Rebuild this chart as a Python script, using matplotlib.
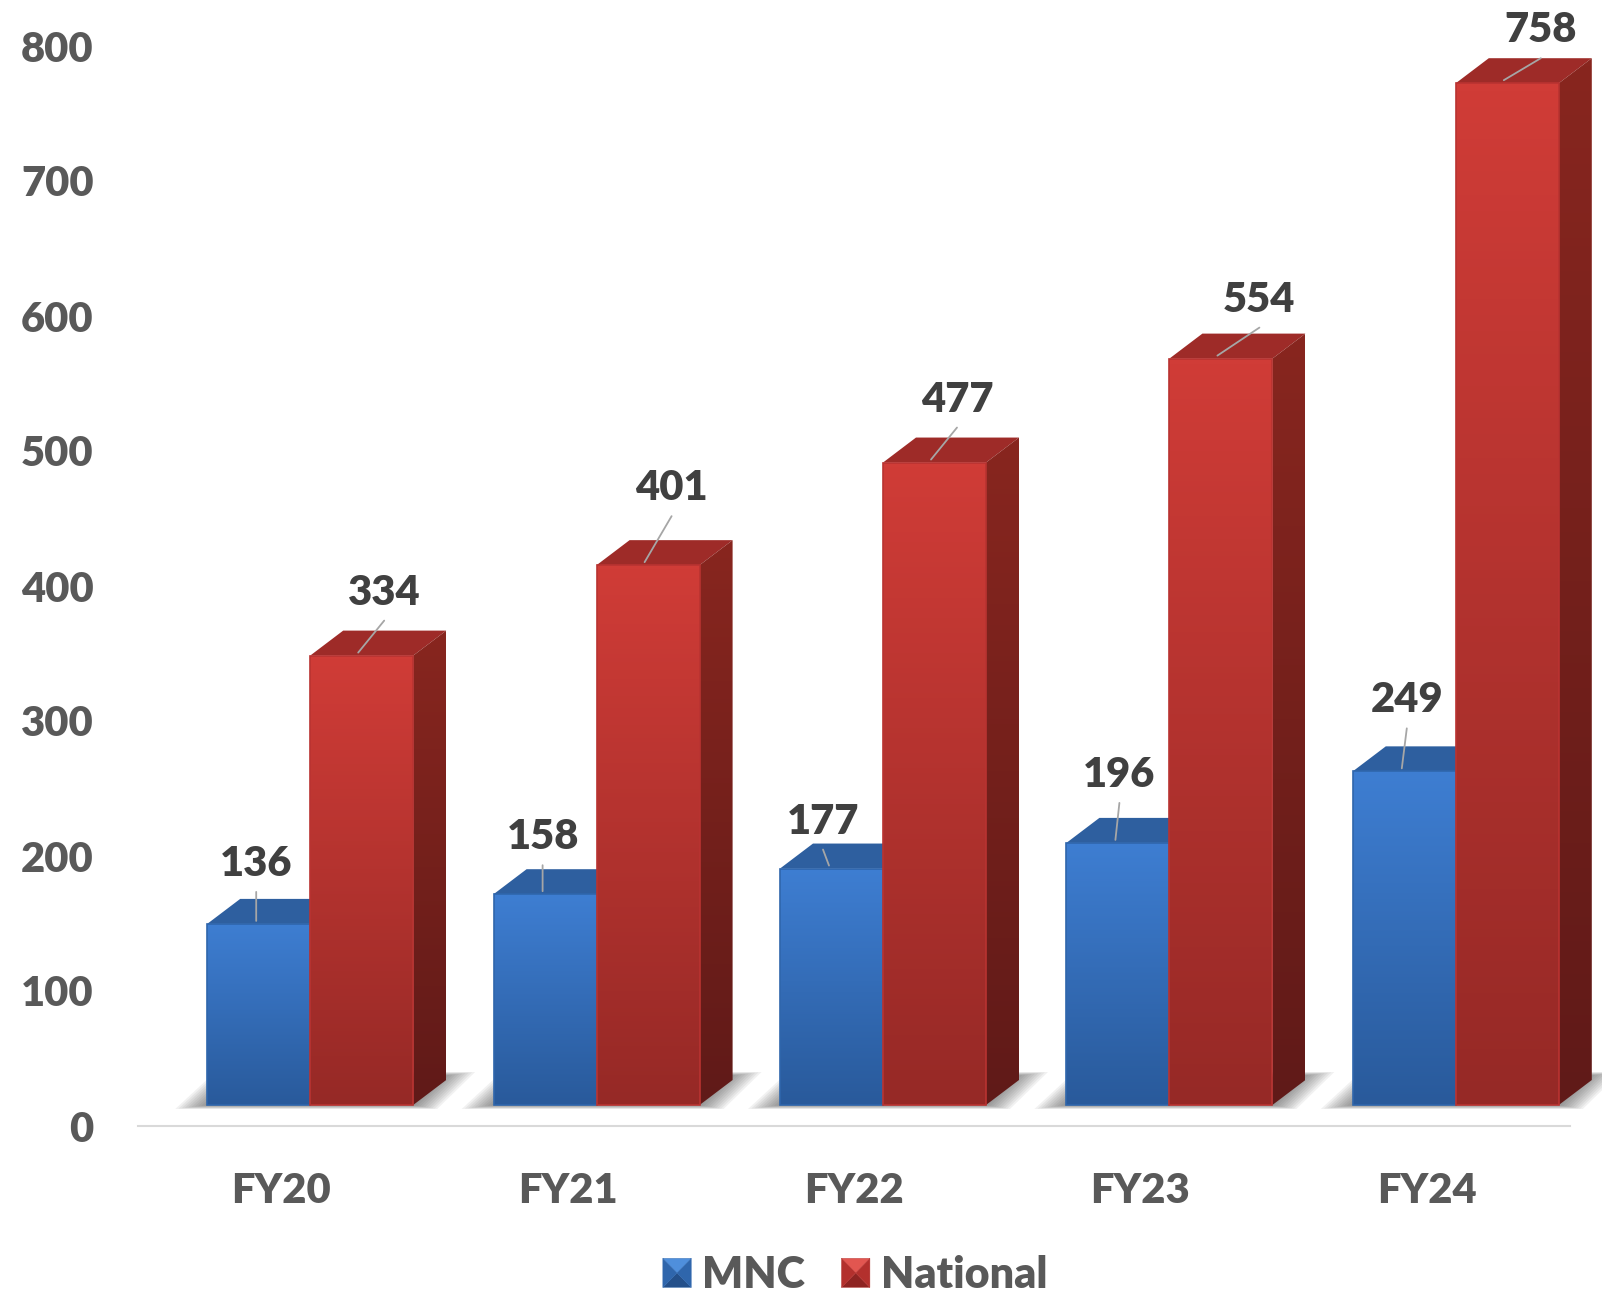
import numpy as np
from matplotlib import pyplot as plt
from matplotlib.colors import LinearSegmentedColormap
from matplotlib.legend_handler import HandlerBase
from matplotlib.patches import Patch, Polygon

# Data
YEARS = ["FY20", "FY21", "FY22", "FY23", "FY24"]
MNC = [136, 158, 177, 196, 249]
NATIONAL = [334, 401, 477, 554, 758]
Y_TICKS = [0, 100, 200, 300, 400, 500, 600, 700, 800]

# Leader line offsets from the bar top, in pixels
MNC_LEADERS = [(0, 29), (0, 26), (-6, 16), (4, 37), (5, 40)]
NATIONAL_LEADERS = [(26, 32), (27, 46), (26, 32), (42, 28), (37, 22)]

# Layout, in reference pixels
WIDTH, HEIGHT = 1602, 1296
DPI = 100
AX_LEFT, AX_RIGHT = 138, 1570
AX_TOP, AX_BOTTOM = 46, 1126
PX_X = 5 / (AX_RIGHT - AX_LEFT)
PX_Y = 800 / (AX_BOTTOM - AX_TOP)
BAR_W = 103 * PX_X
DEPTH_X = 33 * PX_X
DEPTH_Y = 25 * PX_Y
BASE = 21 * PX_Y
BLUE_OFFSET = -74 * PX_X
RED_OFFSET = 29 * PX_X

FONT = "Lato"
WEIGHT = 800
TICK_COLOR = "#595959"
LABEL_COLOR = "#404040"

BLUE = {"front": ("#3E7ED2", "#295A9B"), "side": ("#2A5896", "#1E4272"), "top": "#2E5F9F", "edge": "#2F66AC", "lift": 18.5 * PX_Y}
RED = {"front": ("#D03C37", "#962926"), "side": ("#88261F", "#601A18"), "top": "#9E2B28", "edge": "#B93331", "lift": 19.5 * PX_Y}


def gradient_poly(ax, fig, points, colors, zorder):
    cmap = LinearSegmentedColormap.from_list("bar", colors)
    xs, ys = zip(*points)
    im = ax.imshow(
        np.linspace(0, 1, 128).reshape(-1, 1),
        cmap=cmap,
        aspect="auto",
        extent=(min(xs), max(xs), min(ys), max(ys)),
        origin="upper",
        zorder=zorder,
    )
    poly = Polygon(points, closed=True, transform=ax.transData)
    im.set_clip_box(fig.bbox)
    im.set_clip_path(poly)


def draw_bar(ax, fig, x0, value, style, zorder):
    x1 = x0 + BAR_W
    bottom = BASE
    top = style["lift"] + value
    dx, dy = DEPTH_X, DEPTH_Y
    ax.add_patch(Polygon(
        [(x0, top), (x0 + dx, top + dy), (x1 + dx, top + dy), (x1, top)],
        closed=True, facecolor=style["top"], edgecolor="none", clip_on=False, zorder=zorder,
    ))
    gradient_poly(ax, fig, [(x1, bottom), (x1 + dx, bottom + dy), (x1 + dx, top + dy), (x1, top)], style["side"], zorder)
    gradient_poly(ax, fig, [(x0, bottom), (x1, bottom), (x1, top), (x0, top)], style["front"], zorder + 0.1)
    ax.add_patch(Polygon(
        [(x0, bottom), (x1, bottom), (x1, top), (x0, top)],
        closed=True, facecolor="none", edgecolor=style["edge"], linewidth=1.2, clip_on=False, zorder=zorder + 0.2,
    ))


def draw_shadow(ax, x0, x1):
    pts = np.array([
        (x0 - 32 * PX_X, BASE - 4 * PX_Y),
        (x1 + 24 * PX_X, BASE - 4 * PX_Y),
        (x1 + 62 * PX_X, BASE + 33 * PX_Y),
        (x0 + 8 * PX_X, BASE + 33 * PX_Y),
    ])
    center = pts.mean(axis=0)
    for scale in np.linspace(1.0, 0.72, 14):
        ax.add_patch(Polygon(
            center + (pts - center) * scale,
            closed=True, facecolor="#3A3A3A", edgecolor="none", alpha=0.065, clip_on=False, zorder=1,
        ))


def draw_label(ax, x, value, leader, style):
    y = style["lift"] + value + 3 * PX_Y
    ax.annotate(
        "", xy=(x, y), xycoords="data", xytext=leader, textcoords="offset pixels",
        arrowprops=dict(arrowstyle="-", color="#A6A6A6", lw=1.3, shrinkA=0, shrinkB=0),
        zorder=6, annotation_clip=False,
    )
    ax.annotate(
        str(value), xy=(x, y), xycoords="data",
        xytext=(leader[0], leader[1] + 28), textcoords="offset pixels",
        ha="center", va="center", fontsize=30, fontweight=WEIGHT, family=FONT, color=LABEL_COLOR,
        zorder=7, annotation_clip=False,
    )


class BevelHandler(HandlerBase):
    def create_artists(self, legend, orig_handle, xdescent, ydescent, width, height, fontsize, trans):
        x0, y0 = -xdescent, -ydescent
        x1, y1 = x0 + width, y0 + height
        cx, cy = (x0 + x1) / 2, (y0 + y1) / 2
        light, mid, dark = orig_handle.bevel
        faces = [
            ([(x0, y0), (x1, y0), (cx, cy)], dark),
            ([(x0, y1), (x0, y0), (cx, cy)], mid),
            ([(x1, y1), (x1, y0), (cx, cy)], mid),
            ([(x0, y1), (x1, y1), (cx, cy)], light),
        ]
        return [Polygon(pts, closed=True, facecolor=col, edgecolor=mid, linewidth=0.3, transform=trans) for pts, col in faces]


def main() -> None:
    fig = plt.figure(figsize=(WIDTH / DPI, HEIGHT / DPI), dpi=DPI)
    ax = fig.add_axes([
        AX_LEFT / WIDTH,
        1 - AX_BOTTOM / HEIGHT,
        (AX_RIGHT - AX_LEFT) / WIDTH,
        (AX_BOTTOM - AX_TOP) / HEIGHT,
    ])

    for idx in range(len(YEARS)):
        center = idx + 0.5
        blue_x = center + BLUE_OFFSET
        red_x = center + RED_OFFSET
        draw_shadow(ax, blue_x, red_x + BAR_W)
        draw_bar(ax, fig, blue_x, MNC[idx], BLUE, 2)
        draw_bar(ax, fig, red_x, NATIONAL[idx], RED, 3)
        draw_label(ax, blue_x + 49 * PX_X, MNC[idx], MNC_LEADERS[idx], BLUE)
        draw_label(ax, red_x + 48 * PX_X, NATIONAL[idx], NATIONAL_LEADERS[idx], RED)

    ax.set_xlim(0, 5)
    ax.set_ylim(0, 800)
    ax.set_xticks(np.arange(len(YEARS)) + 0.5, YEARS)
    ax.set_yticks(Y_TICKS)
    ax.tick_params(axis="x", length=0, pad=33, labelcolor=TICK_COLOR)
    ax.tick_params(axis="y", length=0, pad=32, labelcolor=TICK_COLOR)
    for label in ax.get_xticklabels() + ax.get_yticklabels():
        label.set_fontsize(30)
        label.set_fontweight(WEIGHT)
        label.set_family(FONT)

    for name in ("top", "right", "left"):
        ax.spines[name].set_visible(False)
    ax.spines["bottom"].set_color("#D9D9D9")
    ax.spines["bottom"].set_linewidth(1.5)

    mnc_handle = Patch(label="MNC")
    mnc_handle.bevel = ("#4F8FDC", "#2F66AC", "#24508A")
    nat_handle = Patch(label="National")
    nat_handle.bevel = ("#E25650", "#B3302D", "#8E2422")
    legend = fig.legend(
        handles=[mnc_handle, nat_handle],
        handler_map={Patch: BevelHandler()},
        loc="center",
        bbox_to_anchor=(855 / WIDTH, 1 - 1275 / HEIGHT),
        ncol=2,
        frameon=False,
        handlelength=0.66,
        handleheight=0.66,
        handletextpad=0.25,
        columnspacing=0.85,
        borderpad=0,
        prop={"family": FONT, "weight": WEIGHT, "size": 31},
    )
    for text in legend.get_texts():
        text.set_color(TICK_COLOR)

    fig.savefig("out.png", dpi=DPI)
    plt.close(fig)


if __name__ == "__main__":
    main()
